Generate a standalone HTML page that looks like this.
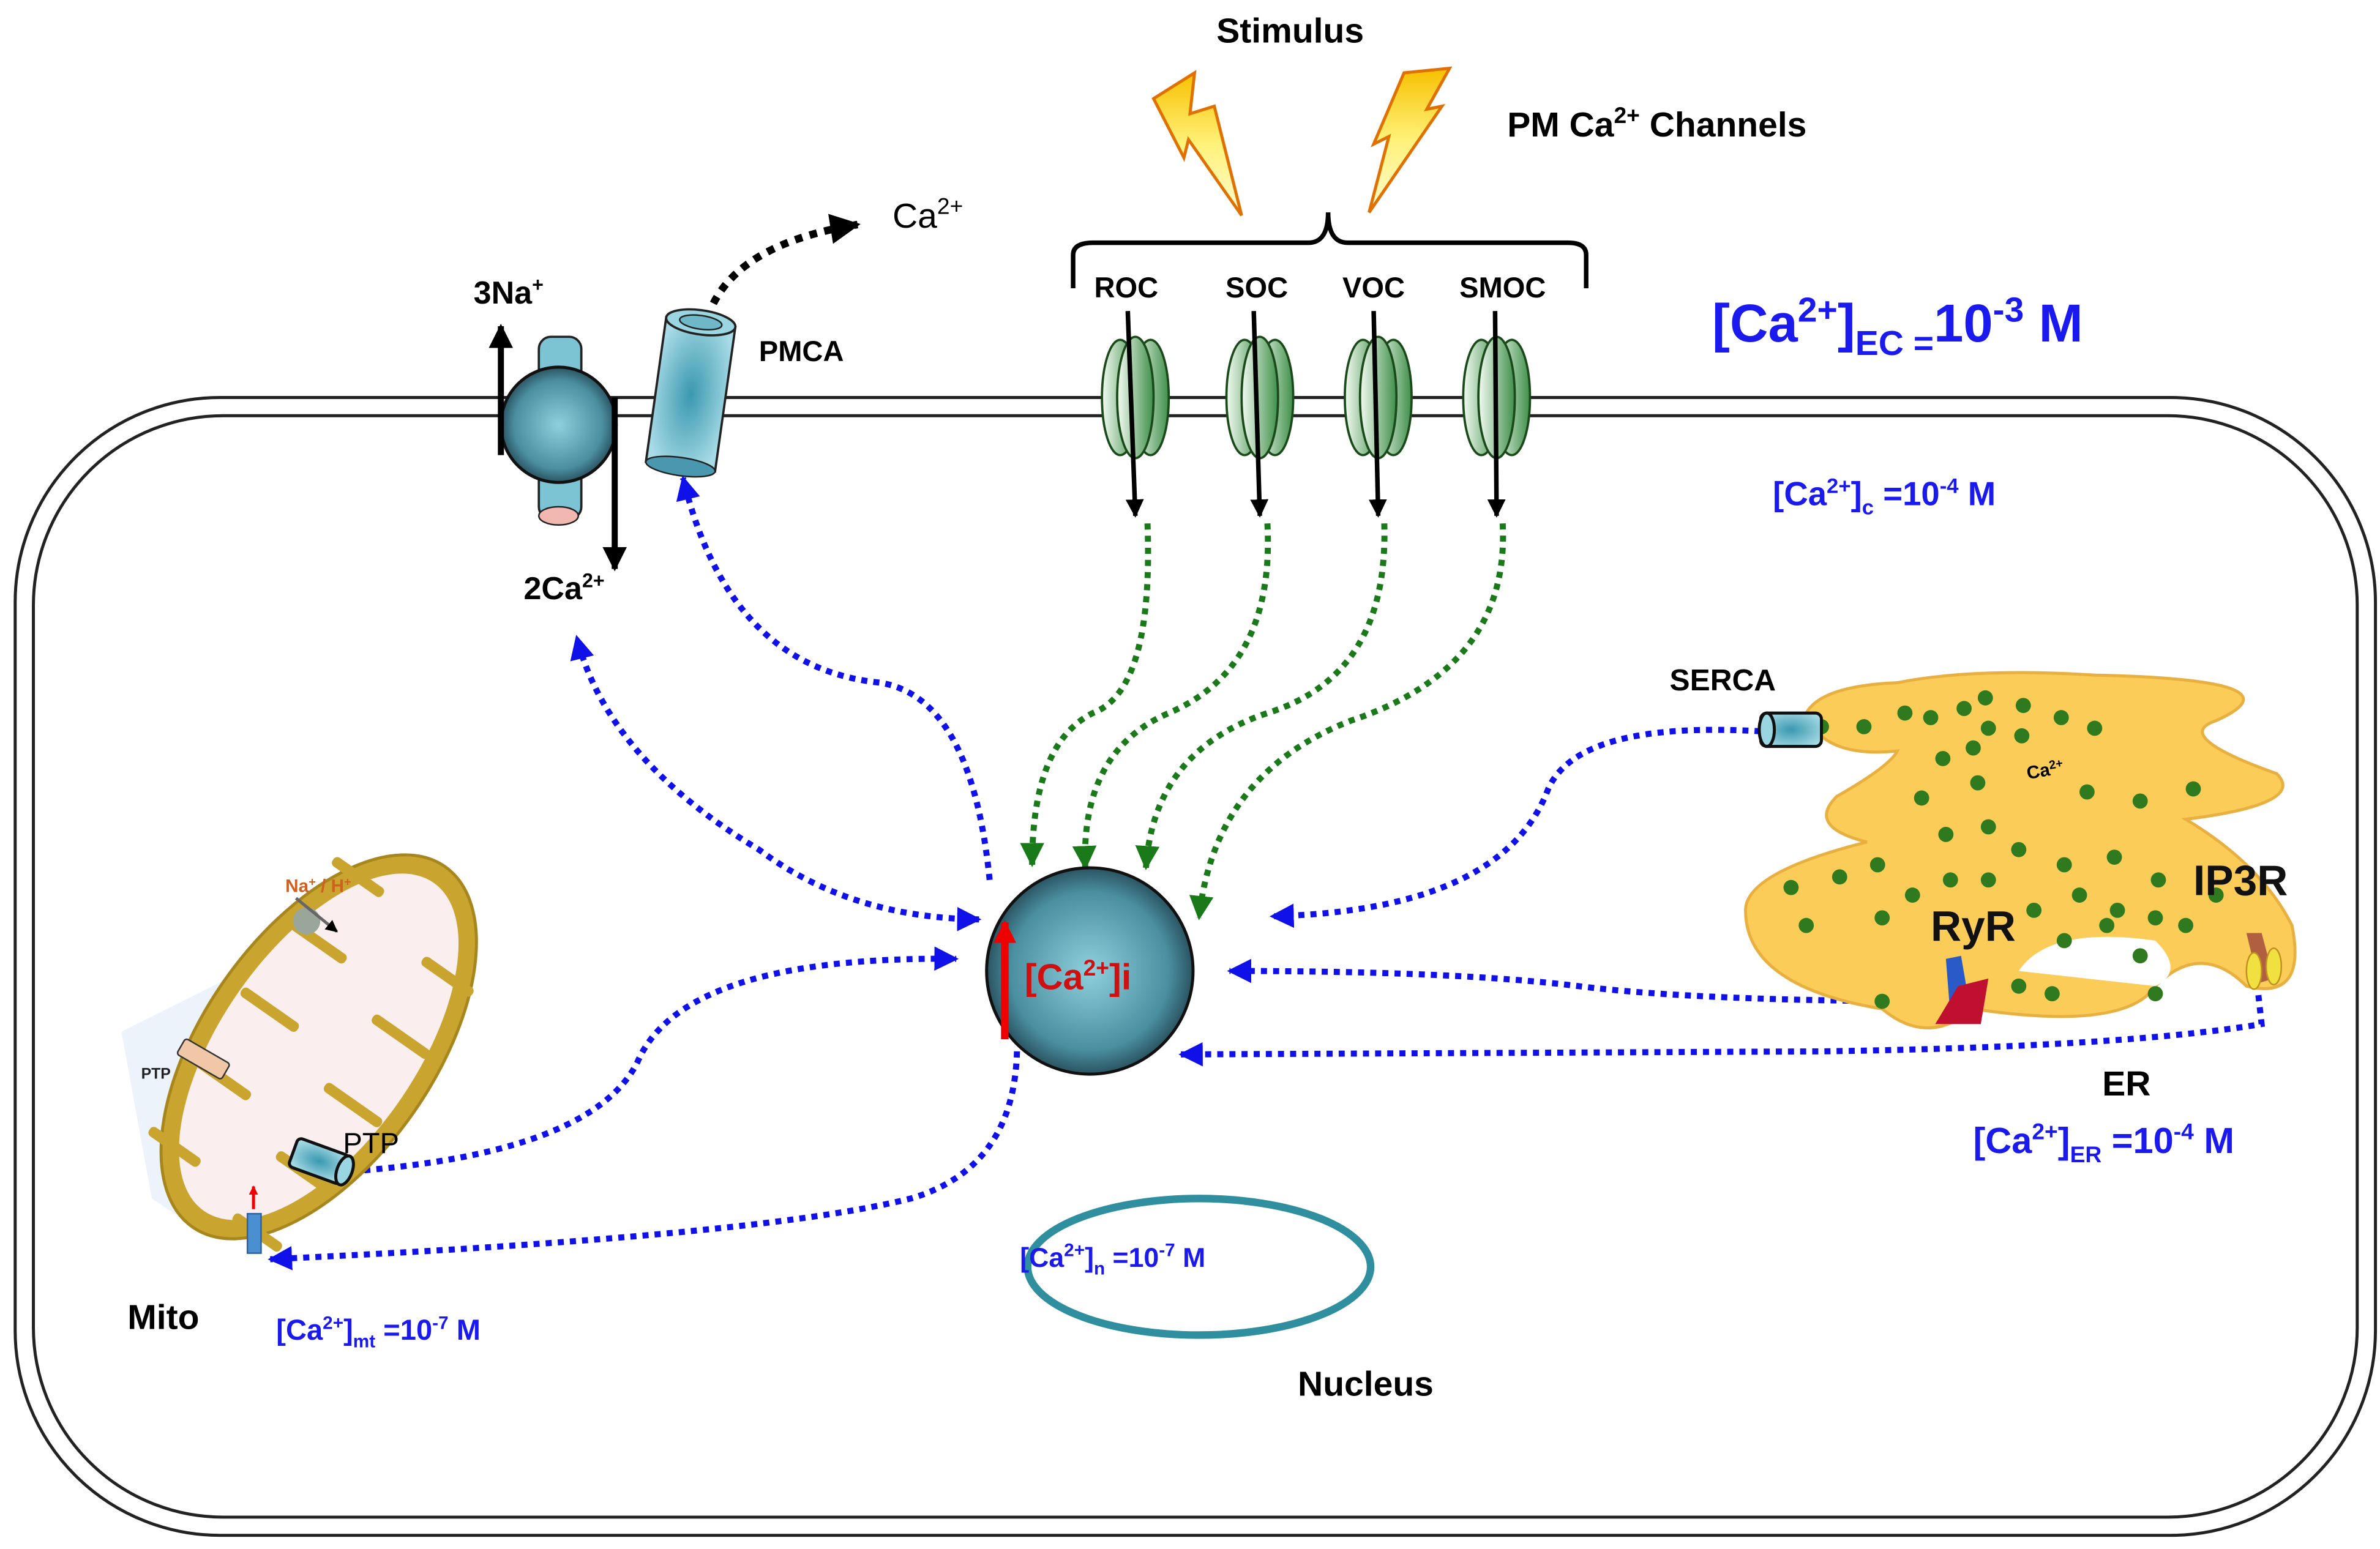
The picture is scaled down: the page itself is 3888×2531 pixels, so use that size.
<!DOCTYPE html>
<html><head><meta charset="utf-8"><style>
html,body{margin:0;padding:0;background:#fff;}
svg{display:block;}
text{font-family:"Liberation Sans",sans-serif;}
</style></head><body>
<svg width="3888" height="2531" viewBox="0 0 1568 1021" preserveAspectRatio="none" xmlns="http://www.w3.org/2000/svg">
<defs>
<radialGradient id="ball" cx="50%" cy="50%" r="55%"><stop offset="0" stop-color="#8fd0dc"/><stop offset="0.7" stop-color="#4a8ea0"/><stop offset="1" stop-color="#1d3a45"/></radialGradient>
<radialGradient id="cyl" cx="50%" cy="50%" r="60%"><stop offset="0" stop-color="#3a98b0"/><stop offset="1" stop-color="#a8dbe6"/></radialGradient>
<linearGradient id="grn" x1="0" x2="1"><stop offset="0" stop-color="#f3fbf2"/><stop offset="1" stop-color="#3f8f4a"/></linearGradient>
<linearGradient id="bolt" x1="0" y1="0" x2="0" y2="1"><stop offset="0" stop-color="#f7c000"/><stop offset="0.5" stop-color="#fff27a"/><stop offset="1" stop-color="#fffbd0"/></linearGradient>
<marker id="ab" viewBox="0 0 10 10" refX="9" refY="5" markerWidth="4" markerHeight="4" orient="auto-start-reverse"><path d="M0 0L10 5L0 10z" fill="#1010e8"/></marker>
<marker id="ag" viewBox="0 0 10 10" refX="9" refY="5" markerWidth="4" markerHeight="4" orient="auto"><path d="M0 0L10 5L0 10z" fill="#1a7a1a"/></marker>
<marker id="ak" viewBox="0 0 10 10" refX="9" refY="5" markerWidth="4" markerHeight="4" orient="auto"><path d="M0 0L10 5L0 10z" fill="#000"/></marker>
<marker id="ar" viewBox="0 0 10 10" refX="9" refY="5" markerWidth="3" markerHeight="3" orient="auto"><path d="M0 0L10 5L0 10z" fill="#e00"/></marker>
</defs>
<rect x="10" y="262" width="1555" height="750" rx="135" fill="none" stroke="#222" stroke-width="2"/>
<rect x="22" y="274" width="1531" height="726" rx="125" fill="none" stroke="#222" stroke-width="2"/>

<text x="850" y="28" font-size="23" font-weight="bold" text-anchor="middle">Stimulus</text>
<text x="993" y="90" font-size="23" font-weight="bold">PM Ca<tspan font-size="15" dy="-9">2+</tspan><tspan dy="9"> Channels</tspan></text>
<path d="M760 65 L787 48 L784 75 L800 70 L818 142 L783 92 L780 104 Z" fill="url(#bolt)" stroke="#e07000" stroke-width="2"/>
<path d="M925 48 L955 45 L940 72 L950 70 L902 140 L915 90 L905 95 Z" fill="url(#bolt)" stroke="#e07000" stroke-width="2"/>
<path d="M707 190 L707 168 Q707 160 720 160 L862 160 Q875 160 875 140 Q875 160 888 160 L1033 160 Q1045 160 1045 168 L1045 190" fill="none" stroke="#000" stroke-width="3"/>
<g font-size="19" font-weight="bold" text-anchor="middle">
<text x="742" y="196">ROC</text><text x="828" y="196">SOC</text><text x="905" y="196">VOC</text><text x="990" y="196">SMOC</text></g>

<g stroke="#1a4a1a" stroke-width="1.5">
<g transform="translate(748,0)"><ellipse cx="-10" cy="262" rx="12" ry="38" fill="url(#grn)"/><ellipse cx="10" cy="262" rx="12" ry="38" fill="url(#grn)"/><ellipse cx="0" cy="262" rx="12" ry="40" fill="url(#grn)"/></g>
<g transform="translate(830,0)"><ellipse cx="-10" cy="262" rx="12" ry="38" fill="url(#grn)"/><ellipse cx="10" cy="262" rx="12" ry="38" fill="url(#grn)"/><ellipse cx="0" cy="262" rx="12" ry="40" fill="url(#grn)"/></g>
<g transform="translate(908,0)"><ellipse cx="-10" cy="262" rx="12" ry="38" fill="url(#grn)"/><ellipse cx="10" cy="262" rx="12" ry="38" fill="url(#grn)"/><ellipse cx="0" cy="262" rx="12" ry="40" fill="url(#grn)"/></g>
<g transform="translate(986,0)"><ellipse cx="-10" cy="262" rx="12" ry="38" fill="url(#grn)"/><ellipse cx="10" cy="262" rx="12" ry="38" fill="url(#grn)"/><ellipse cx="0" cy="262" rx="12" ry="40" fill="url(#grn)"/></g>
</g>
<g stroke="#000" stroke-width="3" marker-end="url(#ak)">
<line x1="743" y1="205" x2="748" y2="340"/><line x1="826" y1="205" x2="830" y2="340"/><line x1="905" y1="205" x2="908" y2="340"/><line x1="985" y1="205" x2="986" y2="340"/></g>

<rect x="355" y="222" width="28" height="120" rx="8" fill="#7cc4d4" stroke="#222" stroke-width="1.5"/>
<ellipse cx="368" cy="340" rx="13" ry="6" fill="#f0b8b0" stroke="#222"/>
<circle cx="368" cy="280" r="38" fill="url(#ball)" stroke="#111" stroke-width="2"/>
<line x1="330" y1="300" x2="330" y2="215" stroke="#000" stroke-width="4" marker-end="url(#ak)"/>
<line x1="405" y1="262" x2="405" y2="375" stroke="#000" stroke-width="4" marker-end="url(#ak)"/>
<text x="312" y="200" font-size="21" font-weight="bold">3Na<tspan font-size="13" dy="-8">+</tspan></text>
<text x="345" y="395" font-size="21" font-weight="bold">2Ca<tspan font-size="13" dy="-8">2+</tspan></text>

<g transform="rotate(8 455 260)">
<rect x="432" y="212" width="46" height="96" fill="url(#cyl)" stroke="#222" stroke-width="1.5"/>
<ellipse cx="455" cy="308" rx="23" ry="6" fill="#4a98b0" stroke="#222"/>
<ellipse cx="455" cy="212" rx="23" ry="8" fill="#9ad6e2" stroke="#222" stroke-width="1.5"/>
<ellipse cx="455" cy="212" rx="14" ry="4.5" fill="#6fb8c8" stroke="#222"/>
</g>
<text x="500" y="238" font-size="19" font-weight="bold">PMCA</text>
<path d="M470 200 Q490 160 565 148" fill="none" stroke="#000" stroke-width="5" stroke-dasharray="5 5" marker-end="url(#ak)"/>
<text x="588" y="150" font-size="23">Ca<tspan font-size="15" dy="-9">2+</tspan></text>

<text x="1128" y="225" font-size="35" font-weight="bold" fill="#1a1aee">[Ca<tspan font-size="23" dy="-13">2+</tspan><tspan dy="13">]</tspan><tspan font-size="23" dy="9">EC =</tspan><tspan dy="-9">10</tspan><tspan font-size="23" dy="-13">-3</tspan><tspan dy="13"> M</tspan></text>
<text x="1168" y="333" font-size="22" font-weight="bold" fill="#1a1aee">[Ca<tspan font-size="14" dy="-8">2+</tspan><tspan dy="8">]</tspan><tspan font-size="14" dy="6">c</tspan><tspan dy="-6"> =10</tspan><tspan font-size="14" dy="-8">-4</tspan><tspan dy="8"> M</tspan></text>

<g fill="none" stroke="#1a7a1a" stroke-width="4" stroke-dasharray="4 4" marker-end="url(#ag)">
<path d="M756 345 Q760 455 720 470 Q680 490 680 570"/>
<path d="M835 345 Q840 440 770 470 Q712 495 715 572"/>
<path d="M912 345 Q915 445 835 470 Q760 495 755 572"/>
<path d="M990 345 Q995 440 890 475 Q800 510 790 605"/>
</g>

<g fill="none" stroke="#1010e8" stroke-width="4" stroke-dasharray="4 4">
<path d="M652 580 Q640 460 580 450 Q480 440 450 315" marker-end="url(#ab)"/>
<path d="M645 606 Q560 605 500 560 Q400 500 380 420" marker-start="url(#ab)" marker-end="url(#ab)"/>
<path d="M232 772 Q390 760 420 700 Q450 630 630 632" marker-end="url(#ab)"/>
<path d="M670 693 Q668 770 600 790 Q500 815 178 830" marker-end="url(#ab)"/>
<path d="M1160 482 Q1040 475 1020 520 Q990 600 838 604" marker-end="url(#ab)"/>
<path d="M1282 660 Q1120 660 1040 650 Q960 640 810 640" marker-end="url(#ab)"/>
<path d="M1487 648 L1490 675 Q1400 690 1200 693 L778 695" marker-end="url(#ab)"/>
</g>

<circle cx="718" cy="640" r="68" fill="url(#ball)" stroke="#111" stroke-width="2"/>
<line x1="662" y1="685" x2="662" y2="608" stroke="#e00" stroke-width="5" marker-end="url(#ar)"/>
<text x="675" y="652" font-size="24" font-weight="bold" fill="#d01010">[Ca<tspan font-size="15" dy="-9">2+</tspan><tspan dy="9">]i</tspan></text>

<path d="M80 680 L160 640 L150 760 L130 810 L100 790 Z" fill="#e6eef8" opacity="0.7"/>
<g transform="rotate(35 210 690)">
<ellipse cx="210" cy="690" rx="76" ry="145" fill="#c9a52f" stroke="#a8861e" stroke-width="2"/>
<ellipse cx="210" cy="690" rx="64" ry="132" fill="#fbeeee"/>
<g fill="#c9a52f">
<rect x="147" y="580" width="40" height="7" rx="3"/><rect x="233" y="600" width="40" height="7" rx="3"/>
<rect x="147" y="630" width="45" height="7" rx="3"/><rect x="228" y="650" width="45" height="7" rx="3"/>
<rect x="147" y="685" width="45" height="7" rx="3"/><rect x="228" y="705" width="45" height="7" rx="3"/>
<rect x="147" y="740" width="45" height="7" rx="3"/><rect x="228" y="760" width="45" height="7" rx="3"/>
<rect x="150" y="795" width="40" height="7" rx="3"/><rect x="228" y="810" width="38" height="7" rx="3"/>
</g></g>
<circle cx="202" cy="607" r="9" fill="#9aa69a"/>
<line x1="195" y1="592" x2="222" y2="614" stroke="#666" stroke-width="2" marker-end="url(#ak)"/>
<text x="188" y="588" font-size="12" font-weight="bold" fill="#d06020">Na<tspan font-size="8" dy="-4">+</tspan><tspan dy="4"> / H</tspan><tspan font-size="8" dy="-4">+</tspan></text>
<rect x="117" y="692" width="34" height="12" rx="2" fill="#f0c8a8" stroke="#333" transform="rotate(30 134 698)"/>
<text x="93" y="711" font-size="10" font-weight="bold" fill="#222">PTP</text>
<g transform="rotate(20 212 766)"><rect x="192" y="756" width="36" height="20" rx="3" fill="url(#cyl)" stroke="#111" stroke-width="2"/><ellipse cx="228" cy="766" rx="5" ry="10" fill="#9ad6e2" stroke="#111" stroke-width="2"/></g>
<text x="226" y="760" font-size="19">PTP</text>
<rect x="163" y="800" width="9" height="26" fill="#4a90d0" stroke="#3060a0"/>
<line x1="167" y1="797" x2="167" y2="782" stroke="#e00" stroke-width="2" marker-end="url(#ar)"/>
<text x="84" y="876" font-size="23" font-weight="bold">Mito</text>
<text x="182" y="883" font-size="19" font-weight="bold" fill="#1a1aee">[Ca<tspan font-size="12" dy="-7">2+</tspan><tspan dy="7">]</tspan><tspan font-size="12" dy="5">mt</tspan><tspan dy="-5"> =10</tspan><tspan font-size="12" dy="-7">-7</tspan><tspan dy="7"> M</tspan></text>

<ellipse cx="790" cy="835" rx="113" ry="45" fill="none" stroke="#2f8f9f" stroke-width="5"/>
<text x="672" y="835" font-size="18" font-weight="bold" fill="#1a1aee">[Ca<tspan font-size="12" dy="-7">2+</tspan><tspan dy="7">]</tspan><tspan font-size="12" dy="5">n</tspan><tspan dy="-5"> =10</tspan><tspan font-size="12" dy="-7">-7</tspan><tspan dy="7"> M</tspan></text>
<text x="855" y="920" font-size="23" font-weight="bold">Nucleus</text>

<path d="M1190 470 Q1200 452 1250 450 Q1300 440 1380 445 Q1520 448 1460 475 Q1430 485 1500 510 Q1520 530 1440 540 Q1490 570 1510 610 Q1520 660 1480 650 Q1450 620 1420 650 Q1400 680 1300 665 Q1270 690 1240 665 Q1150 650 1150 600 Q1150 575 1230 555 Q1190 545 1210 525 Q1245 505 1250 495 Q1200 500 1190 470 Z" fill="#fbcd58" stroke="#e8b040" stroke-width="2"/>
<path d="M1330 640 Q1350 610 1420 620 Q1440 640 1420 650 Z" fill="#fff"/>
<g fill="#2f7a1f">
<circle cx="1200" cy="479" r="5"/><circle cx="1228" cy="479" r="5"/><circle cx="1255" cy="470" r="5"/><circle cx="1272" cy="473" r="5"/><circle cx="1294" cy="467" r="5"/><circle cx="1308" cy="460" r="5"/><circle cx="1333" cy="465" r="5"/><circle cx="1358" cy="473" r="5"/><circle cx="1380" cy="480" r="5"/>
<circle cx="1280" cy="500" r="5"/><circle cx="1300" cy="493" r="5"/><circle cx="1310" cy="480" r="5"/><circle cx="1332" cy="485" r="5"/><circle cx="1303" cy="516" r="5"/><circle cx="1375" cy="522" r="5"/><circle cx="1410" cy="528" r="5"/><circle cx="1445" cy="520" r="5"/>
<circle cx="1266" cy="526" r="5"/><circle cx="1282" cy="550" r="5"/><circle cx="1310" cy="545" r="5"/><circle cx="1330" cy="560" r="5"/><circle cx="1360" cy="570" r="5"/><circle cx="1393" cy="565" r="5"/><circle cx="1422" cy="580" r="5"/>
<circle cx="1180" cy="585" r="5"/><circle cx="1212" cy="578" r="5"/><circle cx="1237" cy="570" r="5"/><circle cx="1260" cy="590" r="5"/><circle cx="1285" cy="580" r="5"/><circle cx="1310" cy="580" r="5"/><circle cx="1340" cy="600" r="5"/><circle cx="1370" cy="590" r="5"/><circle cx="1395" cy="600" r="5"/><circle cx="1420" cy="605" r="5"/>
<circle cx="1190" cy="610" r="5"/><circle cx="1240" cy="605" r="5"/><circle cx="1360" cy="620" r="5"/><circle cx="1440" cy="610" r="5"/><circle cx="1330" cy="650" r="5"/><circle cx="1352" cy="655" r="5"/><circle cx="1240" cy="660" r="5"/><circle cx="1420" cy="655" r="5"/>
<circle cx="1388" cy="610" r="5"/><circle cx="1410" cy="630" r="5"/><circle cx="1460" cy="590" r="5"/>
</g>
<text x="1335" y="512" font-size="12" font-weight="bold" transform="rotate(-10 1345 507)">Ca<tspan font-size="8" dy="-4">2+</tspan></text>
<text x="1272" y="620" font-size="28" font-weight="bold" fill="#111">RyR</text>
<text x="1445" y="590" font-size="28" font-weight="bold" fill="#111">IP3R</text>
<path d="M1282 632 L1292 630 L1298 665 L1285 670Z" fill="#2a5ac8"/>
<path d="M1290 650 L1310 645 L1305 675 L1275 675Z" fill="#c01030"/>
<path d="M1480 615 L1490 615 L1498 645 L1488 648 Z" fill="#b06040"/>
<ellipse cx="1485" cy="640" rx="5" ry="12" fill="#f0e040" stroke="#c09020"/>
<ellipse cx="1498" cy="637" rx="5" ry="12" fill="#f0e040" stroke="#c09020"/>
<g transform="translate(1160 470)"><rect x="0" y="0" width="40" height="22" rx="4" fill="url(#cyl)" stroke="#111" stroke-width="2"/><ellipse cx="4" cy="11" rx="5" ry="11" fill="#9ad6e2" stroke="#111" stroke-width="2"/></g>
<text x="1100" y="455" font-size="20" font-weight="bold">SERCA</text>
<text x="1385" y="722" font-size="23" font-weight="bold">ER</text>
<text x="1300" y="760" font-size="24" font-weight="bold" fill="#1a1aee">[Ca<tspan font-size="15" dy="-9">2+</tspan><tspan dy="9">]</tspan><tspan font-size="15" dy="6">ER</tspan><tspan dy="-6"> =10</tspan><tspan font-size="15" dy="-9">-4</tspan><tspan dy="9"> M</tspan></text>
</svg>
</body></html>
